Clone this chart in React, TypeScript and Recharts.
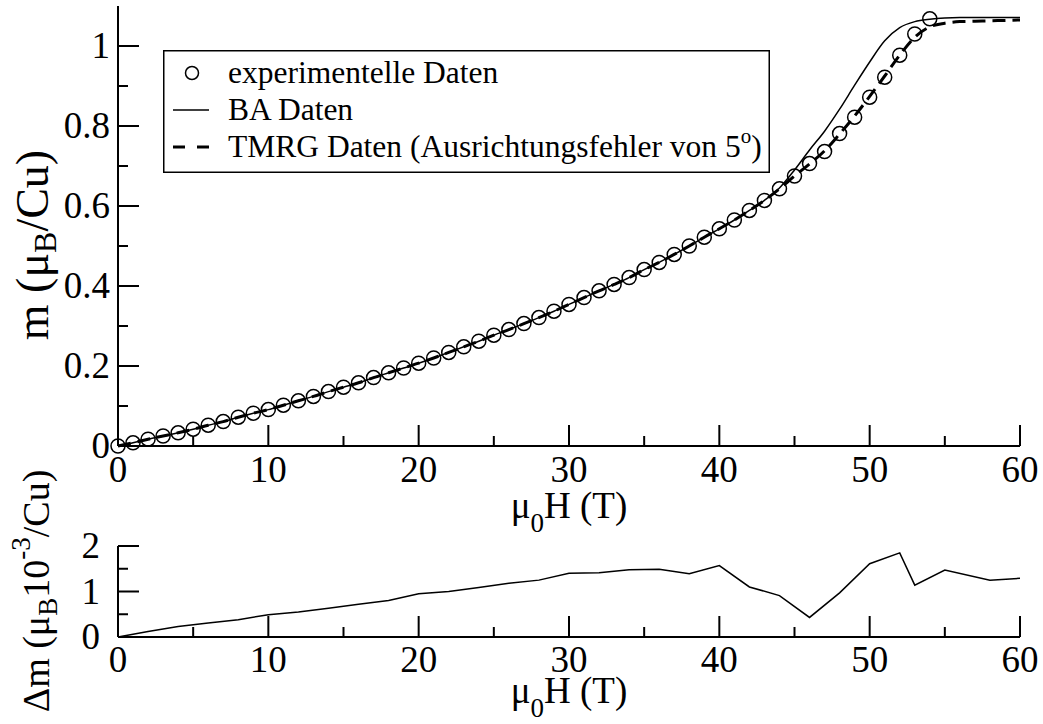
import React from "react";
import { ComposedChart, LineChart, Line, Scatter, XAxis, YAxis, Legend } from "recharts";

const FONT = "Liberation Serif";
const FONT_CSS = `.mag-fig, .mag-fig * { font-family: "Liberation Serif", "Times New Roman", serif !important; }`;

// experimentelle Daten (Kreise), 1 T Schritte
const FIELD_EXP = [
  0, 1, 2, 3, 4, 5, 6, 7, 8, 9, 10, 11, 12, 13, 14, 15, 16, 17, 18, 19, 20, 21, 22, 23, 24, 25, 26, 27,
  28, 29, 30, 31, 32, 33, 34, 35, 36, 37, 38, 39, 40, 41, 42, 43, 44, 45, 46, 47, 48, 49, 50, 51, 52, 53, 54,
];
const M_EXP = [
  0, 0.008, 0.017, 0.025, 0.033, 0.042, 0.052, 0.061, 0.072, 0.082, 0.091, 0.102, 0.113, 0.124, 0.136,
  0.147, 0.158, 0.171, 0.183, 0.195, 0.207, 0.22, 0.234, 0.248, 0.262, 0.277, 0.291, 0.306, 0.321, 0.337,
  0.354, 0.371, 0.388, 0.404, 0.421, 0.441, 0.459, 0.479, 0.5, 0.522, 0.543, 0.565, 0.589, 0.614, 0.643,
  0.675, 0.706, 0.736, 0.781, 0.822, 0.872, 0.922, 0.977, 1.03, 1.068,
];

// Theorie-Kurven, 0..60 T
const FIELD_THEO = [
  0, 1, 2, 3, 4, 5, 6, 7, 8, 9, 10, 11, 12, 13, 14, 15, 16, 17, 18, 19, 20, 21, 22, 23, 24, 25, 26, 27,
  28, 29, 30, 31, 32, 33, 34, 35, 36, 37, 38, 39, 40, 41, 42, 43, 44, 45, 46, 47, 48, 49, 50, 51, 52, 53,
  54, 55, 56, 57, 58, 59, 60,
];
const M_BA = [
  0, 0.008, 0.017, 0.025, 0.033, 0.042, 0.052, 0.061, 0.072, 0.082, 0.091, 0.102, 0.113, 0.124, 0.136,
  0.147, 0.158, 0.171, 0.183, 0.195, 0.207, 0.22, 0.234, 0.248, 0.262, 0.277, 0.291, 0.306, 0.321, 0.337,
  0.354, 0.371, 0.388, 0.404, 0.421, 0.441, 0.459, 0.479, 0.5, 0.522, 0.543, 0.565, 0.589, 0.614, 0.645,
  0.69, 0.74, 0.787, 0.842, 0.902, 0.96, 1.013, 1.046, 1.061, 1.067, 1.07, 1.071, 1.071, 1.071, 1.071, 1.071,
];
const M_TMRG = [
  0, 0.008, 0.017, 0.025, 0.033, 0.042, 0.052, 0.061, 0.072, 0.082, 0.091, 0.102, 0.113, 0.124, 0.136,
  0.147, 0.158, 0.171, 0.183, 0.195, 0.207, 0.22, 0.234, 0.248, 0.262, 0.277, 0.291, 0.306, 0.321, 0.337,
  0.354, 0.371, 0.388, 0.404, 0.421, 0.441, 0.459, 0.479, 0.5, 0.522, 0.543, 0.565, 0.589, 0.614, 0.643,
  0.675, 0.705, 0.738, 0.78, 0.825, 0.874, 0.925, 0.977, 1.022, 1.048, 1.057, 1.061, 1.062, 1.063, 1.064, 1.065,
];

// Differenz (10^-3 muB/Cu)
const FIELD_DIFF = [0, 2, 4, 6, 8, 10, 12, 14, 16, 18, 20, 22, 24, 26, 28, 30, 32, 34, 36, 38, 40, 42, 44, 46, 48, 50, 52, 53, 55, 58, 60];
const DELTA_M = [
  0, 0.12, 0.23, 0.31, 0.38, 0.49, 0.55, 0.63, 0.72, 0.8, 0.95, 1.0, 1.09, 1.18, 1.25, 1.4, 1.41, 1.48, 1.49,
  1.39, 1.57, 1.1, 0.91, 0.43, 0.97, 1.61, 1.85, 1.14, 1.47, 1.25, 1.29,
];

const X_TICKS = [0, 5, 10, 15, 20, 25, 30, 35, 40, 45, 50, 55, 60];
const M_TICKS = [0, 0.1, 0.2, 0.3, 0.4, 0.5, 0.6, 0.7, 0.8, 0.9, 1.0];
const DM_TICKS = [0, 0.5, 1, 1.5, 2];

const expData = FIELD_EXP.map((h, i) => ({ h, m: M_EXP[i] }));
const baData = FIELD_THEO.map((h, i) => ({ h, m: M_BA[i] }));
const tmrgData = FIELD_THEO.map((h, i) => ({ h, m: M_TMRG[i] }));
const diffData = FIELD_DIFF.map((h, i) => ({ h, dm: DELTA_M[i] }));

const MAJOR = 21;
const MINOR = 10;

const xTick = (side: "bottom" | "top", labelDy: number) => (props: any) => {
  const { x, y, payload } = props;
  const v = payload.value;
  const major = v % 10 === 0;
  const len = major ? MAJOR : MINOR;
  const y2 = side === "bottom" ? y - len : y + len;
  return (
    <g>
      <line x1={x} y1={y} x2={x} y2={y2} stroke="#000" strokeWidth={2} />
      {side === "bottom" && major && (
        <text x={x} y={y + labelDy} textAnchor="middle" fontSize={37} fontFamily={FONT} fill="#000">
          {v}
        </text>
      )}
    </g>
  );
};

const yTick = (side: "left" | "right", isMajor: (v: number) => boolean, gap: number) => (props: any) => {
  const { x, y, payload } = props;
  const v = payload.value;
  const major = isMajor(v);
  const len = major ? MAJOR : MINOR;
  const x2 = side === "left" ? x + len : x - len;
  const label = v === 0 ? "0" : Number.isInteger(v) ? String(v) : v.toFixed(1);
  return (
    <g>
      <line x1={x} y1={y} x2={x2} y2={y} stroke="#000" strokeWidth={2} />
      {side === "left" && major && (
        <text x={x - gap} y={y + 12} textAnchor="end" fontSize={37} fontFamily={FONT} fill="#000">
          {label}
        </text>
      )}
    </g>
  );
};

const fieldTitle = (baseline: number) => (props: any) => {
  const vb = props.viewBox;
  return (
    <text x={vb.x + vb.width / 2} y={baseline} textAnchor="middle" fontSize={37} fontFamily={FONT} fill="#000">
      μ
      <tspan fontSize={27} dy={14}>0</tspan>
      <tspan dy={-14}>H (T)</tspan>
    </text>
  );
};

const mTitle = () => (
  <text
    x={32}
    y={245}
    transform="rotate(-90, 32, 245)"
    textAnchor="middle"
    dominantBaseline="central"
    fontSize={46}
    fontFamily={FONT}
    fill="#000"
  >
    m (μ
    <tspan fontSize={32} dy={13}>B</tspan>
    <tspan dy={-13}>/Cu)</tspan>
  </text>
);

const dmTitle = () => (
  <text
    x={36}
    y={141}
    transform="rotate(-90, 36, 141)"
    textAnchor="middle"
    dominantBaseline="central"
    fontSize={38}
    fontFamily={FONT}
    fill="#000"
  >
    Δm (μ
    <tspan fontSize={27} dy={12}>B</tspan>
    <tspan dy={-12}>10</tspan>
    <tspan fontSize={27} dy={-15}>-3</tspan>
    <tspan dy={15}>/Cu)</tspan>
  </text>
);

const renderLegend = () => (
  <svg width={607} height={123} style={{ display: "block" }}>
    <rect x={0.75} y={0.75} width={605.5} height={121.5} fill="#fff" stroke="#000" strokeWidth={1.5} />
    <circle cx={29} cy={23} r={6.5} fill="none" stroke="#000" strokeWidth={1.5} />
    <line x1={10} y1={60} x2={46} y2={60} stroke="#000" strokeWidth={1.5} />
    <line x1={10} y1={97} x2={46} y2={97} stroke="#000" strokeWidth={3} strokeDasharray="12 12" />
    <g fontSize={31.5} fontFamily={FONT} fill="#000">
      <text x={65} y={33}>experimentelle Daten</text>
      <text x={65} y={70}>BA Daten</text>
      <text x={65} y={107}>
        TMRG Daten (Ausrichtungsfehler von 5
        <tspan fontSize={21} dy={-14}>o</tspan>
        <tspan dy={14}>)</tspan>
      </text>
    </g>
  </svg>
);

const axisLine = { stroke: "#000", strokeWidth: 2 };

export default function App() {
  return (
    <div
      className="mag-fig"
      style={{ position: "absolute", left: 0, top: 0, width: 1043, height: 724, background: "#fff", fontFamily: FONT }}
    >
      <style>{FONT_CSS}</style>
      <div style={{ position: "absolute", left: 0, top: 0 }}>
        <ComposedChart width={1043} height={540} margin={{ top: 6, right: 23, left: 0, bottom: 0 }}>
          <XAxis
            xAxisId="b"
            type="number"
            dataKey="h"
            domain={[0, 60]}
            ticks={X_TICKS}
            interval={0}
            height={94}
            tickSize={0}
            tickMargin={0}
            tickLine={false}
            axisLine={axisLine}
            tick={xTick("bottom", 36)}
            label={fieldTitle(518)}
          />
          <XAxis
            xAxisId="t"
            orientation="top"
            type="number"
            dataKey="h"
            domain={[0, 60]}
            ticks={X_TICKS}
            interval={0}
            height={0}
            tickSize={0}
            tickMargin={0}
            tickLine={false}
            axisLine={axisLine}
            tick={xTick("top", 0)}
          />
          <YAxis
            yAxisId="l"
            type="number"
            domain={[0, 1.1]}
            ticks={M_TICKS}
            interval={0}
            width={118}
            tickSize={0}
            tickMargin={0}
            tickLine={false}
            axisLine={axisLine}
            tick={yTick("left", (v) => Math.round(v * 10) % 2 === 0, 8)}
            label={mTitle}
          />
          <YAxis
            yAxisId="r"
            orientation="right"
            type="number"
            domain={[0, 1.1]}
            ticks={M_TICKS}
            interval={0}
            width={0}
            tickSize={0}
            tickMargin={0}
            tickLine={false}
            axisLine={axisLine}
            tick={yTick("right", (v) => Math.round(v * 10) % 2 === 0, 0)}
          />
          <Line
            xAxisId="b"
            yAxisId="l"
            data={baData}
            dataKey="m"
            name="BA Daten"
            type="monotone"
            stroke="#000"
            strokeWidth={1.5}
            dot={false}
            isAnimationActive={false}
          />
          <Line
            xAxisId="b"
            yAxisId="l"
            data={tmrgData}
            dataKey="m"
            name="TMRG Daten"
            type="monotone"
            stroke="#000"
            strokeWidth={3}
            strokeDasharray="13 7"
            dot={false}
            isAnimationActive={false}
          />
          <Scatter
            xAxisId="b"
            yAxisId="l"
            data={expData}
            dataKey="m"
            name="experimentelle Daten"
            isAnimationActive={false}
            shape={(p: any) => <circle cx={p.cx} cy={p.cy} r={7} fill="none" stroke="#000" strokeWidth={1.5} />}
          />
          <Legend
            layout="vertical"
            align="center"
            verticalAlign="middle"
            content={renderLegend}
            wrapperStyle={{ left: 163, top: 50, width: 607, height: 123 }}
          />
        </ComposedChart>
      </div>
      <div style={{ position: "absolute", left: 0, top: 450 }}>
        <LineChart width={1043} height={274} data={diffData} margin={{ top: 96, right: 23, left: 0, bottom: 0 }}>
          <XAxis
            xAxisId="b"
            type="number"
            dataKey="h"
            domain={[0, 60]}
            ticks={X_TICKS}
            interval={0}
            height={87}
            tickSize={0}
            tickMargin={0}
            tickLine={false}
            axisLine={axisLine}
            tick={xTick("bottom", 35)}
            label={fieldTitle(253)}
          />
          <XAxis
            xAxisId="t"
            orientation="top"
            type="number"
            dataKey="h"
            domain={[0, 60]}
            ticks={X_TICKS}
            interval={0}
            height={0}
            tickSize={0}
            tickMargin={0}
            tickLine={false}
            axisLine={axisLine}
            tick={xTick("top", 0)}
          />
          <YAxis
            yAxisId="l"
            type="number"
            domain={[0, 2]}
            ticks={DM_TICKS}
            interval={0}
            width={118}
            tickSize={0}
            tickMargin={0}
            tickLine={false}
            axisLine={axisLine}
            tick={yTick("left", (v) => Number.isInteger(v), 18)}
            label={dmTitle}
          />
          <YAxis
            yAxisId="r"
            orientation="right"
            type="number"
            domain={[0, 2]}
            ticks={DM_TICKS}
            interval={0}
            width={0}
            tickSize={0}
            tickMargin={0}
            tickLine={false}
            axisLine={axisLine}
            tick={yTick("right", (v) => Number.isInteger(v), 0)}
          />
          <Line
            xAxisId="b"
            yAxisId="l"
            dataKey="dm"
            type="linear"
            stroke="#000"
            strokeWidth={1.5}
            dot={false}
            isAnimationActive={false}
          />
        </LineChart>
      </div>
    </div>
  );
}
